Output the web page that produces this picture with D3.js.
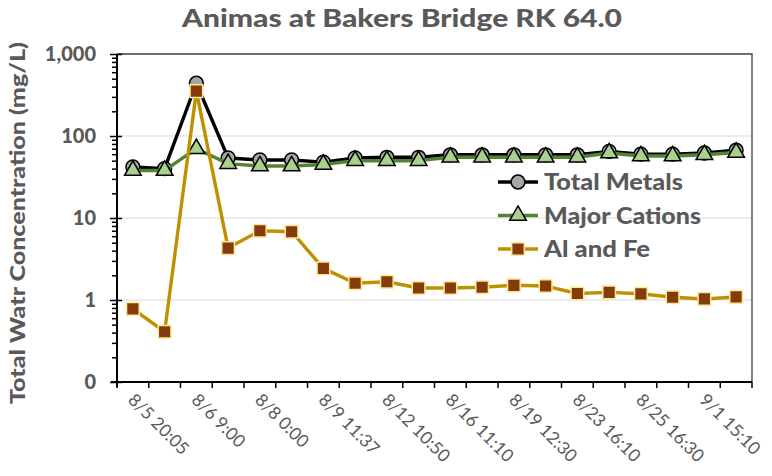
<!DOCTYPE html>
<html>
<head>
<meta charset="utf-8">
<script src="https://cdn.jsdelivr.net/npm/d3@7"></script>
<style>
  html, body { margin: 0; padding: 0; background: #fff; }
  svg { display: block; }
</style>
</head>
<body>
<svg id="chart" width="772" height="476"></svg>
<script>
// ---- Data ----
const titleText = "Animas at Bakers Bridge RK 64.0";
const yAxisTitle = "Total Watr Concentration (mg/L)";
// 20 sampling events; only every other one is labelled on the axis
const xTickLabels = ["8/5 20:05", "8/6 9:00", "8/8 0:00", "8/9 11:37", "8/12 10:50",
                     "8/16 11:10", "8/19 12:30", "8/23 16:10", "8/25 16:30", "9/1 15:10"];
const totalMetals   = [42, 40, 440, 54, 51, 51, 48, 54, 55, 55, 59, 59, 59, 59, 59, 65, 60, 60, 62, 67];
const majorCations  = [38, 38, 70, 46, 43, 43, 45, 50, 50, 50, 55, 55, 55, 55, 55, 62, 57, 57, 59, 63];
const alAndFe       = [0.78, 0.41, 352, 4.3, 7.0, 6.8, 2.43, 1.6, 1.67, 1.4, 1.4, 1.43, 1.51, 1.48, 1.2, 1.24, 1.19, 1.08, 1.03, 1.09];
const yTickValues = [0.1, 1, 10, 100, 1000];
const yTickLabels = ["0", "1", "10", "100", "1,000"];
const seriesNames = ["Total Metals", "Major Cations", "Al and Fe"];

// ---- Layout ----
const svg = d3.select("#chart");
const W = 772, H = 476;
const plot = { left: 117, right: 752, top: 54, bottom: 382 };
const gray = "#595959";
const font = "Lato, 'Open Sans', sans-serif";
const heavy = 900;

svg.append("rect").attr("width", W).attr("height", H).attr("fill", "#fff");

const n = totalMetals.length;
const x = d3.scaleBand().domain(d3.range(n)).range([plot.left, plot.right]).padding(0);
const y = d3.scaleLog().domain([0.1, 1000]).range([plot.bottom, plot.top]);

// gridlines
svg.append("g").selectAll("line").data(yTickValues.slice(1, 4)).join("line")
  .attr("x1", plot.left).attr("x2", plot.right)
  .attr("y1", d => y(d)).attr("y2", d => y(d))
  .attr("stroke", "#d9d9d9").attr("stroke-width", 1.2);

// plot border top/right
svg.append("path")
  .attr("d", `M${plot.left},${y(1000)}H${plot.right}V${plot.bottom}`)
  .attr("fill", "none").attr("stroke", "#404040").attr("stroke-width", 1.3);

// minor ticks on y axis
const minor = [];
for (let e = -1; e < 3; e++) for (let k = 2; k <= 9; k++) minor.push(k * Math.pow(10, e));
const yMinorAxis = d3.axisLeft(y).tickValues(minor).tickSize(5).tickFormat("");
const gMinor = svg.append("g").attr("transform", `translate(${plot.left},0)`).call(yMinorAxis);
gMinor.select(".domain").remove();
gMinor.selectAll("line").attr("stroke", "#000").attr("stroke-width", 1.5);

// major ticks (cross) + labels
const yAxis = d3.axisLeft(y).tickValues(yTickValues).tickSize(7).tickPadding(14)
  .tickFormat((d, i) => yTickLabels[i]);
const gY = svg.append("g").attr("transform", `translate(${plot.left},0)`).call(yAxis);
gY.select(".domain").remove();
gY.selectAll("line").attr("x2", -7).attr("x1", 5).attr("stroke", "#000").attr("stroke-width", 1.5);
gY.selectAll("text").attr("font-family", font).attr("font-weight", heavy)
  .attr("font-size", 20).attr("fill", gray);

// y axis line
svg.append("line").attr("x1", plot.left).attr("x2", plot.left)
  .attr("y1", plot.top).attr("y2", plot.bottom + 5)
  .attr("stroke", "#000").attr("stroke-width", 2);

// x axis
svg.append("line").attr("x1", plot.left - 6).attr("x2", plot.right)
  .attr("y1", plot.bottom).attr("y2", plot.bottom)
  .attr("stroke", "#000").attr("stroke-width", 2);
const bounds = d3.range(n + 1).map(i => plot.left + i * x.step());
svg.append("g").selectAll("line").data(bounds).join("line")
  .attr("x1", d => d).attr("x2", d => d)
  .attr("y1", plot.bottom).attr("y2", plot.bottom + 6)
  .attr("stroke", "#000").attr("stroke-width", 1.5);

svg.append("g").selectAll("text").data(xTickLabels).join("text")
  .attr("transform", (d, i) => {
    const cx = x(i * 2) + x.bandwidth() / 2;
    return `translate(${cx - 6},${plot.bottom + 19}) rotate(45)`;
  })
  .attr("text-anchor", "start")
  .attr("font-family", font).attr("font-size", 17.5).attr("fill", gray)
  .text(d => d);

// title
svg.append("text").attr("x", 402).attr("y", 27).attr("text-anchor", "middle")
  .attr("font-family", font).attr("font-weight", heavy).attr("font-size", 24)
  .attr("textLength", 440).attr("lengthAdjust", "spacingAndGlyphs")
  .attr("fill", gray).text(titleText);

// y title
svg.append("text").attr("transform", `translate(25,223) rotate(-90)`)
  .attr("text-anchor", "middle")
  .attr("font-family", font).attr("font-weight", heavy).attr("font-size", 21)
  .attr("textLength", 362).attr("lengthAdjust", "spacingAndGlyphs")
  .attr("fill", gray).text(yAxisTitle);

// ---- series ----
const styles = [
  { data: totalMetals, line: "#000000", fill: "#a6a6a6", stroke: "#000000", symbol: d3.symbolCircle, size: 150 },
  { data: majorCations, line: "#548235", fill: "#a9d18e", stroke: "#000000", symbol: d3.symbolTriangle, size: 120 },
  { data: alAndFe, line: "#bf9000", fill: "#843c0c", stroke: "#ffe699", symbol: d3.symbolSquare, size: 160 }
];
const legendWidths = [139, 157, 106];
const cxOf = i => x(i) + x.bandwidth() / 2;
const lineGen = d3.line().x((d, i) => cxOf(i)).y(d => y(d));

styles.forEach(s => {
  const g = svg.append("g");
  g.append("path").datum(s.data).attr("d", lineGen)
    .attr("fill", "none").attr("stroke", s.line).attr("stroke-width", 3.4)
    .attr("stroke-linejoin", "round");
  g.selectAll("path.m").data(s.data).join("path").attr("class", "m")
    .attr("transform", (d, i) => `translate(${cxOf(i)},${y(d)})`)
    .attr("d", d3.symbol().type(s.symbol).size(s.size))
    .attr("fill", s.fill).attr("stroke", s.stroke).attr("stroke-width", 1.5);
});

// ---- legend ----
const legend = svg.append("g");
const lx = 498, ly0 = 182, ldy = 33.5;
styles.forEach((s, i) => {
  const ly = ly0 + i * ldy;
  const g = legend.append("g");
  g.append("line").attr("x1", lx).attr("x2", lx + 40).attr("y1", ly).attr("y2", ly)
    .attr("stroke", s.line).attr("stroke-width", 3.4);
  g.append("path").attr("transform", `translate(${lx + 20},${ly})`)
    .attr("d", d3.symbol().type(s.symbol).size(s.size))
    .attr("fill", s.fill).attr("stroke", s.stroke).attr("stroke-width", 1.5);
  g.append("text").attr("x", lx + 46).attr("y", ly + 8)
    .attr("font-family", font).attr("font-weight", heavy).attr("font-size", 22)
    .attr("textLength", legendWidths[i]).attr("lengthAdjust", "spacingAndGlyphs")
    .attr("fill", gray).text(seriesNames[i]);
});
</script>
</body>
</html>
